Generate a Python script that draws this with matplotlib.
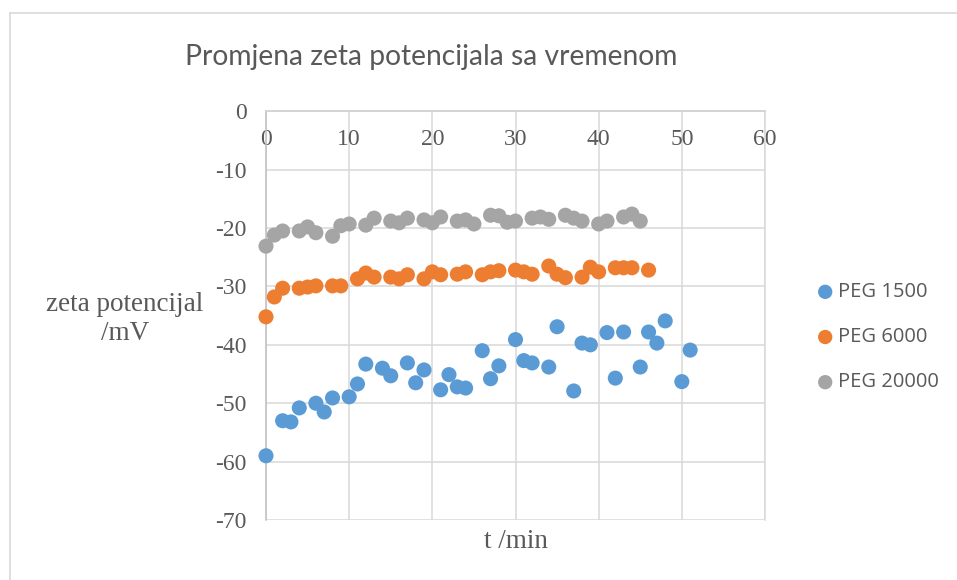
import matplotlib
matplotlib.use("Agg")
import matplotlib.pyplot as plt
from matplotlib.lines import Line2D

plt.rcParams["axes.unicode_minus"] = False

# ---- data ----
t_1500 = [0, 2, 3, 4, 6, 7, 8, 10, 11, 12, 14, 15, 17, 18, 19, 21, 22, 23, 24, 26,
          27, 28, 30, 31, 32, 34, 35, 37, 38, 39, 41, 42, 43, 45, 46, 47, 48, 50, 51]
z_1500 = [-59.0, -53.0, -53.2, -50.8, -50.0, -51.5, -49.1, -48.9, -46.7, -43.3,
          -44.0, -45.3, -43.1, -46.5, -44.3, -47.7, -45.1, -47.2, -47.4, -41.0,
          -45.8, -43.6, -39.1, -42.7, -43.1, -43.8, -36.9, -47.9, -39.7, -40.0,
          -37.9, -45.7, -37.8, -43.8, -37.8, -39.7, -35.9, -46.3, -40.9]

t_6000 = [0, 1, 2, 4, 5, 6, 8, 9, 11, 12, 13, 15, 16, 17, 19, 20, 21, 23, 24, 26,
          27, 28, 30, 31, 32, 34, 35, 36, 38, 39, 40, 42, 43, 44, 46]
z_6000 = [-35.2, -31.8, -30.3, -30.3, -30.1, -29.9, -29.9, -29.9, -28.7, -27.7,
          -28.4, -28.4, -28.7, -28.0, -28.7, -27.5, -28.0, -27.9, -27.5, -28.0,
          -27.5, -27.3, -27.2, -27.5, -27.9, -26.5, -27.9, -28.5, -28.4, -26.7,
          -27.5, -26.8, -26.8, -26.8, -27.2]

t_20000 = [0, 1, 2, 4, 5, 6, 8, 9, 10, 12, 13, 15, 16, 17, 19, 20, 21, 23, 24, 25,
           27, 28, 29, 30, 32, 33, 34, 36, 37, 38, 40, 41, 43, 44, 45]
z_20000 = [-23.1, -21.2, -20.5, -20.5, -19.8, -20.8, -21.4, -19.6, -19.3, -19.5,
           -18.3, -18.8, -19.1, -18.3, -18.6, -19.1, -18.1, -18.8, -18.6, -19.3,
           -17.8, -17.9, -19.0, -18.8, -18.3, -18.1, -18.5, -17.8, -18.3, -18.8,
           -19.3, -18.8, -18.1, -17.6, -18.8]

series_names = ["PEG 1500", "PEG 6000", "PEG 20000"]
colors = ["#5B9BD5", "#ED7D31", "#A5A5A5"]
x_ticks = [0, 10, 20, 30, 40, 50, 60]
y_ticks = [0, -10, -20, -30, -40, -50, -60, -70]

title = "Promjena zeta potencijala sa vremenom"
ylabel = "zeta potencijal\n/mV"
xlabel = "t /min"

# ---- figure ----
W, H = 957, 580
fig = plt.figure(figsize=(W / 100, H / 100), dpi=100)
grid_c = "#D9D9D9"
text_c = "#595959"

L, R, T, B = 266, 765, 111.3, 520
ax = fig.add_axes([L / W, 1 - B / H, (R - L) / W, (B - T) / H])
ax.set_xlim(0, 60)
ax.set_ylim(-70, 0)
ax.set_xticks(x_ticks)
ax.set_yticks(y_ticks)
ax.grid(True, color=grid_c, linewidth=1.1, zorder=0)
ax.set_axisbelow(True)
for s in ax.spines.values():
    s.set_color(grid_c)
    s.set_linewidth(1.1)
ax.spines["left"].set_color("#BFBFBF")
ax.spines["bottom"].set_position(("data", 0))
ax.spines["bottom"].set_color("#BFBFBF")
ax.tick_params(length=0)
ax.tick_params(axis="x", pad=13, labelsize=17, labelcolor=text_c)
ax.tick_params(axis="y", pad=14, labelsize=17, labelcolor=text_c)
for lab in ax.get_xticklabels() + ax.get_yticklabels():
    lab.set_family("Liberation Serif")

for tt, zz, c, n in zip([t_1500, t_6000, t_20000], [z_1500, z_6000, z_20000],
                        colors, series_names):
    ax.scatter(tt, zz, s=118, color=c, edgecolors="none", zorder=3,
               clip_on=False, label=n)

fig.text(431 / W, 1 - 57 / H, title, ha="center", va="center",
         fontsize=20.3, color=text_c, family="Lato")
fig.text(125 / W, 1 - 319 / H, ylabel, ha="center", va="center",
         fontsize=19.5, color=text_c, family="Liberation Serif", linespacing=1.2)
fig.text(516 / W, 1 - 541 / H, xlabel, ha="center", va="center",
         fontsize=19.5, color=text_c, family="Liberation Serif")

leg = fig.legend(loc="upper left", bbox_to_anchor=(795 / W, 1 - 264 / H),
                 frameon=False, prop={"family": "Open Sans", "size": 14.5},
                 labelcolor=text_c, handletextpad=0.05, labelspacing=1.25,
                 markerscale=0.95, handlelength=1.2)

# outer chart frame (left & top visible)
fig.add_artist(Line2D([10 / W, 10 / W], [0, 1 - 12.5 / H], color=grid_c,
                      linewidth=1.2, transform=fig.transFigure))
fig.add_artist(Line2D([10 / W, 1], [1 - 12.5 / H, 1 - 12.5 / H], color=grid_c,
                      linewidth=1.2, transform=fig.transFigure))

fig.savefig("out.png", dpi=100)
